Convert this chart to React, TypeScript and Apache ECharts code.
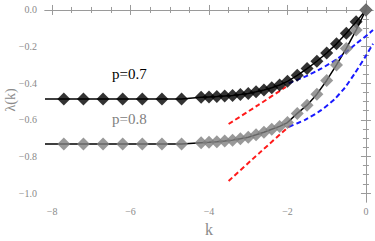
import React, { useEffect, useRef } from "react";
import * as echarts from "echarts";

// k values of the sampled points (shared by both p values)
const kPoints = [-7.7, -7.2, -6.7, -6.2, -5.7, -5.2, -4.7, -4.2, -4.0, -3.8, -3.6, -3.4, -3.2, -3.0, -2.8, -2.6, -2.4, -2.2, -2.0, -1.75, -1.5, -1.25, -1.0, -0.75, -0.5, -0.25, 0];
const lambdaP07 = [-0.487, -0.487, -0.487, -0.487, -0.487, -0.487, -0.487, -0.477, -0.475, -0.473, -0.47, -0.467, -0.462, -0.456, -0.447, -0.437, -0.425, -0.41, -0.39, -0.357, -0.32, -0.28, -0.235, -0.185, -0.127, -0.065, 0];
const lambdaP08 = [-0.732, -0.732, -0.732, -0.732, -0.732, -0.732, -0.732, -0.725, -0.723, -0.72, -0.716, -0.711, -0.704, -0.695, -0.682, -0.668, -0.652, -0.636, -0.615, -0.565, -0.52, -0.46, -0.385, -0.3, -0.21, -0.11, 0];

// theory curve starts at the left frame edge
const kTheoryStart = -8.18;

// red dashed asymptotes (small-k side)
const redK07 = [-3.5, -2.75, -2.04];
const redV07 = [-0.623, -0.52, -0.42];
const redK08 = [-3.5, -2.72, -1.96];
const redV08 = [-0.934, -0.782, -0.636];

// blue dashed asymptotes (large-k side)
const blueK07 = [-1.97, -1.55, -1.13, -0.71, -0.28, 0.1, 0.18];
const blueV07 = [-0.4, -0.364, -0.319, -0.264, -0.19, -0.125, -0.11];
const blueK08 = [-1.96, -1.55, -1.13, -0.79, -0.54, -0.28, 0, 0.18];
const blueV08 = [-0.638, -0.6, -0.546, -0.485, -0.425, -0.345, -0.25, -0.185];

const xMajor = [-8, -6, -4, -2, 0];
const yMajor = [0, -0.2, -0.4, -0.6, -0.8, -1.0];

const labelP07 = "p=0.7";
const labelP08 = "p=0.8";

const zip = (a: number[], b: number[]) => a.map((v, i) => [v, b[i]]);

export default function App() {
  const ref = useRef<HTMLDivElement>(null);
  useEffect(() => {
    if (!ref.current) return;
    const chart = echarts.init(ref.current, undefined, { renderer: "svg" });

    const xMinor: number[] = [];
    for (let i = -16; i <= 0; i++) if (i % 4 !== 0) xMinor.push(i / 2);
    const yMinor: number[] = [];
    for (let i = -20; i <= 0; i++) if (i % 4 !== 0) yMinor.push(i / 20);

    const frameColor = "#9a9a9a";
    const labelColor = "#8a8a8a";
    const serif = "Liberation Serif";
    const fmt = (d: number) => (v: number) => {
      const s = Math.abs(v) < 1e-9 ? (0).toFixed(d) : v.toFixed(d);
      return s.replace("-", "\u2212");
    };

    const xBase = {
      type: "value" as const,
      min: -8.18,
      max: 0.18,
      splitLine: { show: false },
    };
    const yBase = {
      type: "value" as const,
      min: -1.049,
      max: 0.049,
      splitLine: { show: false },
    };

    const option: any = {
      animation: false,
      grid: { left: 45, right: 2, top: 1, bottom: 39 },
      xAxis: [
        {
          ...xBase,
          position: "bottom",
          axisLine: { show: true, lineStyle: { color: frameColor, width: 1 } },
          axisTick: { show: true, inside: true, length: 5, customValues: xMajor, lineStyle: { color: frameColor } },
          axisLabel: { show: true, customValues: xMajor, formatter: fmt(0), color: labelColor, fontFamily: serif, fontSize: 10, margin: 4 },
        },
        {
          ...xBase,
          position: "bottom",
          axisLine: { show: false },
          axisTick: { show: true, inside: true, length: 3, customValues: xMinor, lineStyle: { color: frameColor } },
          axisLabel: { show: false },
        },
        {
          ...xBase,
          position: "top",
          axisLine: { show: true, lineStyle: { color: frameColor, width: 1 } },
          axisTick: { show: true, inside: true, length: 5, customValues: xMajor, lineStyle: { color: frameColor } },
          axisLabel: { show: false },
        },
        {
          ...xBase,
          position: "top",
          axisLine: { show: false },
          axisTick: { show: true, inside: true, length: 3, customValues: xMinor, lineStyle: { color: frameColor } },
          axisLabel: { show: false },
        },
      ],
      yAxis: [
        {
          ...yBase,
          position: "left",
          axisLine: { show: true, lineStyle: { color: frameColor, width: 1 } },
          axisTick: { show: true, inside: true, length: 5, customValues: yMajor, lineStyle: { color: frameColor } },
          axisLabel: { show: true, customValues: yMajor, formatter: fmt(1), color: labelColor, fontFamily: serif, fontSize: 10, margin: 8 },
        },
        {
          ...yBase,
          position: "left",
          axisLine: { show: false },
          axisTick: { show: true, inside: true, length: 3, customValues: yMinor, lineStyle: { color: frameColor } },
          axisLabel: { show: false },
        },
        {
          ...yBase,
          position: "right",
          axisLine: { show: true, lineStyle: { color: frameColor, width: 1 } },
          axisTick: { show: true, inside: true, length: 5, customValues: yMajor, lineStyle: { color: frameColor } },
          axisLabel: { show: false },
        },
        {
          ...yBase,
          position: "right",
          axisLine: { show: false },
          axisTick: { show: true, inside: true, length: 3, customValues: yMinor, lineStyle: { color: frameColor } },
          axisLabel: { show: false },
        },
      ],
      series: [
        {
          type: "line",
          data: [[kTheoryStart, lambdaP07[0]], ...zip(kPoints, lambdaP07)],
          showSymbol: false,
          symbol: "none",
          lineStyle: { color: "#000", width: 1.5 },
          z: 2,
        },
        {
          type: "line",
          data: [[kTheoryStart, lambdaP08[0]], ...zip(kPoints, lambdaP08)],
          showSymbol: false,
          symbol: "none",
          lineStyle: { color: "#000", width: 1.5 },
          z: 2,
        },
        ...[
          [redK07, redV07, "#ff1a1a"],
          [redK08, redV08, "#ff1a1a"],
          [blueK07, blueV07, "#1a1aff"],
          [blueK08, blueV08, "#1a1aff"],
        ].map(([ks, vs, c]) => ({
          type: "line",
          data: zip(ks as number[], vs as number[]),
          smooth: 0.2,
          symbol: "none",
          lineStyle: { color: c as string, width: 2, type: [5, 3] },
          z: 3,
        })),
        {
          type: "scatter",
          data: zip(kPoints, lambdaP07),
          symbol: "diamond",
          symbolSize: 13,
          itemStyle: { color: "#000" },
          z: 4,
        },
        {
          type: "scatter",
          data: zip(kPoints, lambdaP08),
          symbol: "diamond",
          symbolSize: 13,
          itemStyle: { color: "#808080" },
          z: 5,
        },
      ],
      graphic: [
        {
          type: "text",
          left: 112,
          top: 66,
          style: { text: labelP07, fill: "#000", fontSize: 15, fontFamily: serif },
        },
        {
          type: "text",
          left: 112,
          top: 111,
          style: { text: labelP08, fill: "#808080", fontSize: 15, fontFamily: serif },
        },
        {
          type: "text",
          x: 10,
          y: 100,
          rotation: Math.PI / 2,
          style: { text: "\u03bb(k)", fill: labelColor, fontSize: 14, fontFamily: serif, align: "center", verticalAlign: "middle" },
        },
        {
          type: "text",
          x: 209,
          y: 229,
          style: { text: "k", fill: labelColor, fontSize: 16, fontFamily: serif, align: "center", verticalAlign: "middle" },
        },
      ],
    };
    chart.setOption(option);
    return () => chart.dispose();
  }, []);
  return <div ref={ref} style={{ position: "absolute", left: 0, top: 0, width: 375, height: 241 }} />;
}
